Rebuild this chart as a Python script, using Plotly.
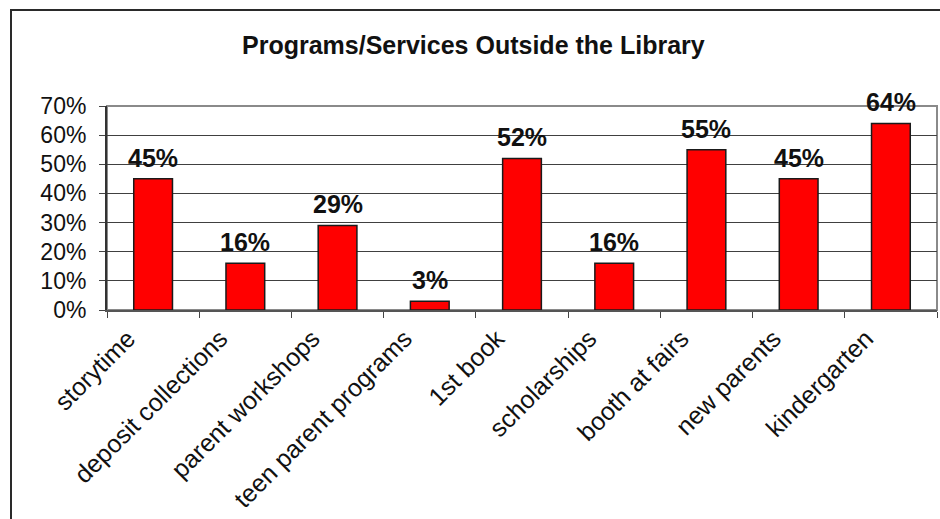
import plotly.graph_objects as go

categories = ["storytime", "deposit collections", "parent workshops",
              "teen parent programs", "1st book", "scholarships",
              "booth at fairs", "new parents", "kindergarten"]
shares = [45, 16, 29, 3, 52, 16, 55, 45, 64]
y_ticks = [0, 10, 20, 30, 40, 50, 60, 70]
y_tick_text = [f"{v}%" for v in y_ticks]
title_text = "Programs/Services Outside the Library"

FONT = "Liberation Sans, Arial, sans-serif"

fig = go.Figure(go.Bar(
    x=categories,
    y=shares,
    marker=dict(color="#ff0000", line=dict(color="#1a1a1a", width=1.5)),
    width=0.42,
    hoverinfo="skip",
))

# value labels above each bar
for cat, val in zip(categories, shares):
    fig.add_annotation(
        x=cat, y=val, text=f"<b>{val}%</b>", showarrow=False,
        yanchor="bottom", yshift=5,
        font=dict(family=FONT, size=25, color="#111111"),
    )

L, R, T, B = 107, 3, 106, 209
W, H = 940, 519
pw, ph = W - L - R, H - T - B

def px_x(p):
    return (p - L) / pw

def px_y(q):
    return (H - B - q) / ph

# outer chart frame
fig.add_shape(type="rect", xref="paper", yref="paper",
              x0=px_x(11), x1=px_x(946), y0=px_y(526), y1=px_y(10),
              line=dict(color="#2a2a2a", width=2), layer="below")
# plot area border
fig.add_shape(type="rect", xref="paper", yref="paper",
              x0=0, x1=1, y0=0, y1=1,
              line=dict(color="#8a8a8a", width=2), layer="below")

fig.add_annotation(
    xref="paper", yref="paper", x=px_x(473), y=px_y(45),
    text=f"<b>{title_text}</b>", showarrow=False,
    xanchor="center", yanchor="middle",
    font=dict(family=FONT, size=25, color="#111111"),
)

fig.update_layout(
    width=W, height=H,
    margin=dict(l=L, r=R, t=T, b=B, pad=0),
    paper_bgcolor="white", plot_bgcolor="white",
    showlegend=False,
    font=dict(family=FONT, color="#111111"),
)
fig.update_xaxes(
    type="category",
    tickangle=-45,
    tickfont=dict(family=FONT, size=25, color="#111111"),
    ticks="outside", tickson="boundaries", ticklen=6, tickcolor="#444",
    ticklabelshift=-25, ticklabelstandoff=2,
    showline=True, linecolor="#555555", linewidth=2,
    showgrid=False,
)
fig.update_yaxes(
    range=[0, 70],
    tickvals=y_ticks, ticktext=y_tick_text,
    tickfont=dict(family=FONT, size=23, color="#111111"),
    ticks="outside", ticklen=6, tickcolor="#444",
    ticklabelstandoff=8,
    showline=True, linecolor="#333333", linewidth=2,
    showgrid=True, gridcolor="#404040", gridwidth=1,
    zeroline=False,
)

fig.write_html("out.html")
